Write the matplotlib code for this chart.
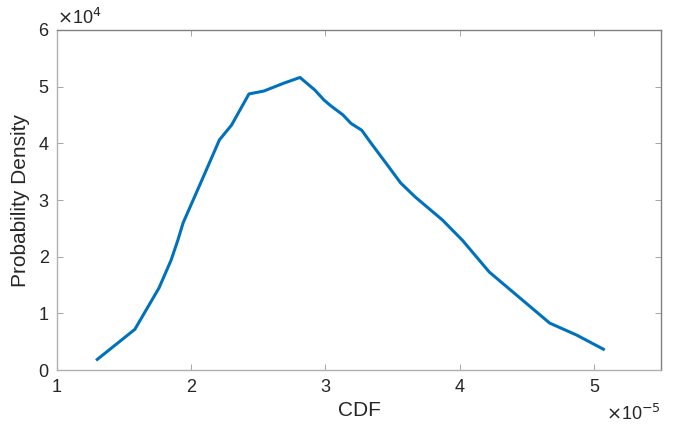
import matplotlib
matplotlib.use("Agg")
import matplotlib.pyplot as plt
from matplotlib.ticker import FuncFormatter

# curve (x in units of 1e-5, y in units of 1e4)
cdf_scaled = [1.30, 1.58, 1.76, 1.85, 1.90, 1.94, 2.07, 2.21, 2.30, 2.43, 2.54, 2.69,
              2.81, 2.84, 2.92, 2.99, 3.04, 3.13, 3.19, 3.27, 3.34, 3.46, 3.56, 3.67,
              3.87, 4.02, 4.22, 4.47, 4.67, 4.87, 5.07]
dens_scaled = [0.19, 0.72, 1.45, 1.94, 2.29, 2.60, 3.30, 4.06, 4.32, 4.87, 4.92, 5.06,
               5.16, 5.10, 4.94, 4.76, 4.66, 4.50, 4.35, 4.23, 4.00, 3.62, 3.30, 3.05,
               2.65, 2.29, 1.73, 1.23, 0.83, 0.62, 0.37]
cdf = [v * 1e-5 for v in cdf_scaled]
dens = [v * 1e4 for v in dens_scaled]

plt.rcParams["font.family"] = ["Liberation Sans", "DejaVu Sans"]
fig = plt.figure(figsize=(6.76, 4.26), dpi=100)
ax = fig.add_axes([0.0843, 0.131, 0.8937, 0.799])

ax.plot(cdf, dens, color="#0072BD", lw=2.2)

ax.set_xlim(1e-5, 5.5e-5)
ax.set_ylim(0, 6e4)
ax.set_xticks([1e-5, 2e-5, 3e-5, 4e-5, 5e-5])
ax.set_yticks([0, 1e4, 2e4, 3e4, 4e4, 5e4, 6e4])
ax.xaxis.set_major_formatter(FuncFormatter(lambda v, p: f"{v/1e-5:g}"))
ax.yaxis.set_major_formatter(FuncFormatter(lambda v, p: f"{v/1e4:g}"))
ax.tick_params(direction="in", length=4, width=0.6, color="#999999",
               labelsize=13, labelcolor="#262626", top=True, right=True, pad=6)

for s in ["left", "bottom"]:
    ax.spines[s].set_color("#b0b0b0")
for s in ["top", "right"]:
    ax.spines[s].set_color("#808080")
for s in ax.spines.values():
    s.set_linewidth(1.0)

ax.set_xlabel("CDF", fontsize=15, color="#262626", labelpad=4)
ax.set_ylabel("Probability Density", fontsize=15, color="#262626", labelpad=6)

ax.text(0.0, 1.005, r"$\times$10$^4$", transform=ax.transAxes, fontsize=13,
        color="#262626", ha="left", va="bottom")
ax.text(1.0, -0.1, r"$\times$10$^{-5}$", transform=ax.transAxes, fontsize=13,
        color="#262626", ha="right", va="top")

fig.savefig("out.png", dpi=100)
